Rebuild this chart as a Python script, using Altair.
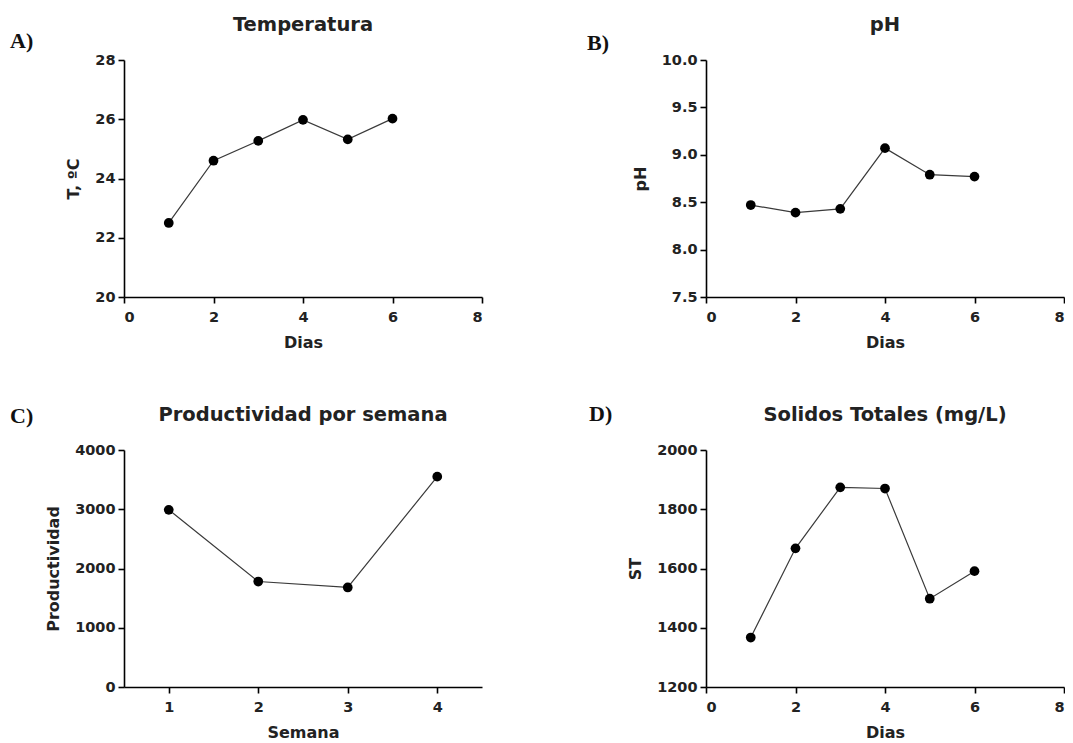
import altair as alt
import pandas as pd

# ---- data ----
dias = [1, 2, 3, 4, 5, 6]
temperatura = [22.5, 24.6, 25.27, 25.98, 25.32, 26.02]
ph = [8.47, 8.39, 8.43, 9.07, 8.79, 8.77]
semana = [1, 2, 3, 4]
productividad = [2990, 1780, 1680, 3550]
solidos = [1367, 1668, 1874, 1870, 1498, 1591]

FONT = "DejaVu Sans"
W, H = 358, 237


def panel(xs, ys, title, xtitle, ytitle, xdom, xvals, ydom, yvals, yfmt, label, lx, ly):
    df = pd.DataFrame({"x": xs, "y": ys})
    x = alt.X("x:Q", scale=alt.Scale(domain=xdom, nice=False, zero=False),
              axis=alt.Axis(values=xvals, title=xtitle, format="d"))
    y = alt.Y("y:Q", scale=alt.Scale(domain=ydom, nice=False, zero=False),
              axis=alt.Axis(values=yvals, title=ytitle, format=yfmt))
    base = alt.Chart(df)
    line = base.mark_line(color="#3a3a3a", strokeWidth=1.2).encode(x=x, y=y)
    pts = base.mark_circle(color="black", size=95, opacity=1).encode(x=x, y=y)
    lab = alt.Chart(pd.DataFrame({"t": [label]})).mark_text(
        font="Liberation Serif", fontWeight="bold", fontSize=22, align="left",
        baseline="alphabetic", color="#111"
    ).encode(text="t:N", x=alt.value(lx), y=alt.value(ly))
    ttl = alt.Chart(pd.DataFrame({"t": [title]})).mark_text(
        font=FONT, fontWeight="bold", fontSize=19.5, align="center",
        baseline="alphabetic", color="#222"
    ).encode(text="t:N", x=alt.value(W / 2), y=alt.value(-29))
    return alt.layer(line, pts, lab, ttl).properties(width=W, height=H)


A = panel(dias, temperatura, "Temperatura", "Dias", "T, ºC", [0, 8], [0, 2, 4, 6, 8],
          [20, 28], [20, 22, 24, 26, 28], "d", "A)", -114, -12)
B = panel(dias, ph, "pH", "Dias", "pH", [0, 8], [0, 2, 4, 6, 8],
          [7.5, 10], [7.5, 8.0, 8.5, 9.0, 9.5, 10.0], ".1f", "B)", -119, -10)
C = panel(semana, productividad, "Productividad por semana", "Semana", "Productividad",
          [0.5, 4.5], [1, 2, 3, 4], [0, 4000], [0, 1000, 2000, 3000, 4000], "d", "C)", -114, -27)
D = panel(dias, solidos, "Solidos Totales (mg/L)", "Dias", "ST", [0, 8], [0, 2, 4, 6, 8],
          [1200, 2000], [1200, 1400, 1600, 1800, 2000], "d", "D)", -117, -29)

chart = alt.concat(A, B, C, D, columns=2, bounds="flush",
                   spacing={"row": 153, "column": 224}).properties(
    padding={"left": 2, "top": 7, "right": 0, "bottom": 0}
).configure_view(stroke=None).configure_axis(
    grid=False, domainColor="black", domainWidth=1.6, tickColor="black", tickWidth=1.6,
    tickSize=6, labelFont=FONT, labelFontWeight="bold", labelFontSize=14.5, labelColor="#222",
    labelPadding=3, titleFont=FONT, titleFontWeight="bold", titleFontSize=16,
    titleColor="#222", titlePadding=13
).configure_axisX(labelPadding=7, titlePadding=11)

chart.save("out.html", embed_options={"renderer": "svg", "actions": False})
